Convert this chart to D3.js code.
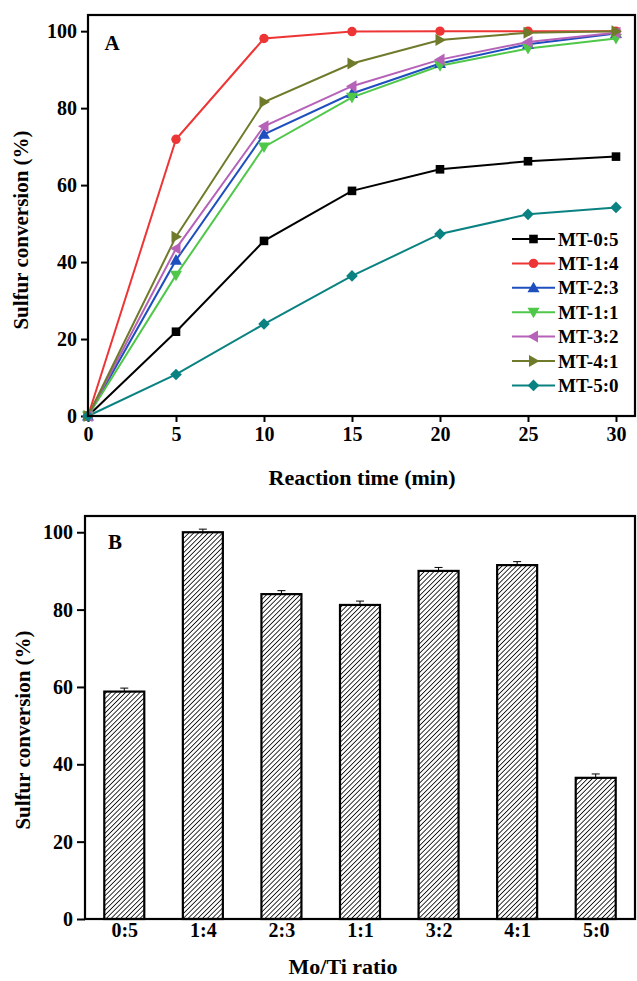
<!DOCTYPE html>
<html>
<head>
<meta charset="utf-8">
<script src="https://cdn.jsdelivr.net/npm/d3@7"></script>
<style>
  body { margin: 0; background: #fff; }
  svg text { font-family: "Liberation Serif", "Times New Roman", serif; font-weight: bold; fill: #000; }
</style>
</head>
<body>
<svg id="chart" width="637" height="981"></svg>
<script>
// panel A data
const times = [0, 5, 10, 15, 20, 25, 30];
const seriesNames = ["MT-0:5", "MT-1:4", "MT-2:3", "MT-1:1", "MT-3:2", "MT-4:1", "MT-5:0"];
const mt05 = [0, 21.9, 45.5, 58.5, 64.1, 66.2, 67.4];
const mt14 = [0, 71.9, 98.1, 99.9, 100, 100, 100];
const mt23 = [0, 40.5, 73.2, 83.8, 91.6, 96.6, 99.4];
const mt11 = [0, 36.6, 69.9, 82.8, 91.0, 95.5, 98.1];
const mt32 = [0, 43.5, 75.3, 85.7, 92.6, 97.2, 99.6];
const mt41 = [0, 46.6, 81.6, 91.6, 97.7, 99.6, 100];
const mt50 = [0, 10.8, 23.9, 36.4, 47.3, 52.4, 54.2];
const seriesColors = ["#000000", "#ee3535", "#1f4fbf", "#4fc84a", "#b662b8", "#6f7a2a", "#0b8282"];
const seriesSymbols = ["square", "circle", "up", "down", "left", "right", "diamond"];

// panel B data
const ratios = ["0:5", "1:4", "2:3", "1:1", "3:2", "4:1", "5:0"];
const conversion = [58.8, 100, 84.0, 81.2, 90.0, 91.5, 36.5];
const errors = [0.9, 0.8, 0.9, 1.0, 0.9, 0.9, 1.0];

const yTicks = [0, 20, 40, 60, 80, 100];
const xTicksA = [0, 5, 10, 15, 20, 25, 30];

const svg = d3.select("#chart");

// hatch pattern for bars
const defs = svg.append("defs");
const pat = defs.append("pattern")
  .attr("id", "hatch")
  .attr("patternUnits", "userSpaceOnUse")
  .attr("width", 3.4).attr("height", 3.4)
  .attr("patternTransform", "rotate(45)");
pat.append("rect").attr("width", 3.4).attr("height", 3.4).attr("fill", "#fff");
pat.append("line").attr("x1", 0).attr("y1", 0).attr("x2", 0).attr("y2", 3.4)
  .attr("stroke", "#000").attr("stroke-width", 1.6);

function symbolPath(kind, s) {
  if (kind === "square") return `M${-s},${-s}H${s}V${s}H${-s}Z`;
  if (kind === "circle") return d3.symbol(d3.symbolCircle, Math.PI * s * s * 1.2)();
  if (kind === "diamond") { const r = s * 1.35; return `M0,${-r}L${r},0L0,${r}L${-r},0Z`; }
  const r = s * 1.4;
  if (kind === "up") return `M0,${-r}L${r},${r * 0.75}L${-r},${r * 0.75}Z`;
  if (kind === "down") return `M0,${r}L${r},${-r * 0.75}L${-r},${-r * 0.75}Z`;
  if (kind === "left") return `M${-r},0L${r * 0.75},${-r}L${r * 0.75},${r}Z`;
  if (kind === "right") return `M${r},0L${-r * 0.75},${-r}L${-r * 0.75},${r}Z`;
}

// ---------- Panel A ----------
const A = { left: 88, right: 635, top: 15, bottom: 416 };
const xA = d3.scaleLinear().domain([0, 31.08]).range([A.left, A.right]);
const yA = d3.scaleLinear().domain([0, 104.2]).range([A.bottom, A.top]);

const gA = svg.append("g");
gA.append("g")
  .attr("transform", `translate(0,${A.bottom})`)
  .call(d3.axisBottom(xA).tickValues(xTicksA).tickSize(6).tickPadding(5))
  .call(g => g.select(".domain").remove());
gA.append("g")
  .attr("transform", `translate(${A.left},0)`)
  .call(d3.axisLeft(yA).tickValues(yTicks).tickSize(7).tickPadding(4))
  .call(g => g.select(".domain").remove());
gA.selectAll(".tick line").attr("stroke", "#000").attr("stroke-width", 2);
gA.selectAll(".tick text").attr("font-size", 20).attr("fill", "#000");

const allSeries = [mt05, mt14, mt23, mt11, mt32, mt41, mt50];
const line = d3.line().x((d, i) => xA(times[i])).y(d => yA(d));
allSeries.forEach((vals, k) => {
  gA.append("path").datum(vals)
    .attr("fill", "none").attr("stroke", seriesColors[k]).attr("stroke-width", 2)
    .attr("d", line);
});
allSeries.forEach((vals, k) => {
  gA.selectAll(null).data(vals).join("path")
    .attr("transform", (d, i) => `translate(${xA(times[i])},${yA(d)})`)
    .attr("d", symbolPath(seriesSymbols[k], 4.3))
    .attr("fill", seriesColors[k]);
});

gA.append("rect")
  .attr("x", A.left).attr("y", A.top)
  .attr("width", A.right - A.left).attr("height", A.bottom - A.top)
  .attr("fill", "none").attr("stroke", "#000").attr("stroke-width", 2.2);

gA.append("text").attr("x", 112).attr("y", 50).attr("text-anchor", "middle")
  .attr("font-size", 21).text("A");

// legend
const leg = gA.append("g");
seriesNames.forEach((name, k) => {
  const y = 239 + k * 24.4;
  leg.append("line").attr("x1", 512).attr("x2", 555).attr("y1", y).attr("y2", y)
    .attr("stroke", seriesColors[k]).attr("stroke-width", 2);
  leg.append("path").attr("transform", `translate(533.5,${y})`)
    .attr("d", symbolPath(seriesSymbols[k], 4.3)).attr("fill", seriesColors[k]);
  leg.append("text").attr("x", 558).attr("y", y + 6.5).attr("font-size", 19).text(name);
});

gA.append("text").attr("x", 362).attr("y", 485).attr("text-anchor", "middle")
  .attr("font-size", 22).text("Reaction time (min)");
gA.append("text").attr("transform", "translate(28,230) rotate(-90)")
  .attr("text-anchor", "middle").attr("font-size", 21).text("Sulfur conversion (%)");

// ---------- Panel B ----------
const B = { left: 85, right: 635, top: 516, bottom: 919 };
const xB = d3.scalePoint().domain(ratios).range([B.left, B.right]).padding(0.5);
const yB = d3.scaleLinear().domain([0, 104.2]).range([B.bottom, B.top]);
const barW = 40;

const gB = svg.append("g");
gB.append("g")
  .attr("transform", `translate(0,${B.bottom})`)
  .call(d3.axisBottom(xB).tickSize(0).tickPadding(4))
  .call(g => g.select(".domain").remove());
gB.append("g")
  .attr("transform", `translate(${B.left},0)`)
  .call(d3.axisLeft(yB).tickValues(yTicks).tickSize(8).tickPadding(4))
  .call(g => g.select(".domain").remove());
gB.selectAll(".tick line").attr("stroke", "#000").attr("stroke-width", 2);
gB.selectAll(".tick text").attr("font-size", 20).attr("fill", "#000");

gB.selectAll(".bar").data(conversion).join("rect")
  .attr("class", "bar")
  .attr("x", (d, i) => xB(ratios[i]) - barW / 2)
  .attr("y", d => yB(d))
  .attr("width", barW)
  .attr("height", d => yB(0) - yB(d))
  .attr("fill", "url(#hatch)").attr("stroke", "#000").attr("stroke-width", 2.2);

// error bars (upper half)
const eb = gB.selectAll(".err").data(conversion).join("g").attr("class", "err");
eb.append("line")
  .attr("x1", (d, i) => xB(ratios[i])).attr("x2", (d, i) => xB(ratios[i]))
  .attr("y1", d => yB(d)).attr("y2", (d, i) => yB(d + errors[i]))
  .attr("stroke", "#000").attr("stroke-width", 1);
eb.append("line")
  .attr("x1", (d, i) => xB(ratios[i]) - 4).attr("x2", (d, i) => xB(ratios[i]) + 4)
  .attr("y1", (d, i) => yB(d + errors[i])).attr("y2", (d, i) => yB(d + errors[i]))
  .attr("stroke", "#000").attr("stroke-width", 1);

gB.append("rect")
  .attr("x", B.left).attr("y", B.top)
  .attr("width", B.right - B.left).attr("height", B.bottom - B.top)
  .attr("fill", "none").attr("stroke", "#000").attr("stroke-width", 2.2);

gB.append("text").attr("x", 115).attr("y", 549).attr("text-anchor", "middle")
  .attr("font-size", 21).text("B");

gB.append("text").attr("x", 343).attr("y", 974).attr("text-anchor", "middle")
  .attr("font-size", 22).text("Mo/Ti ratio");
gB.append("text").attr("transform", "translate(30,730) rotate(-90)")
  .attr("text-anchor", "middle").attr("font-size", 21).text("Sulfur conversion (%)");
</script>
</body>
</html>
